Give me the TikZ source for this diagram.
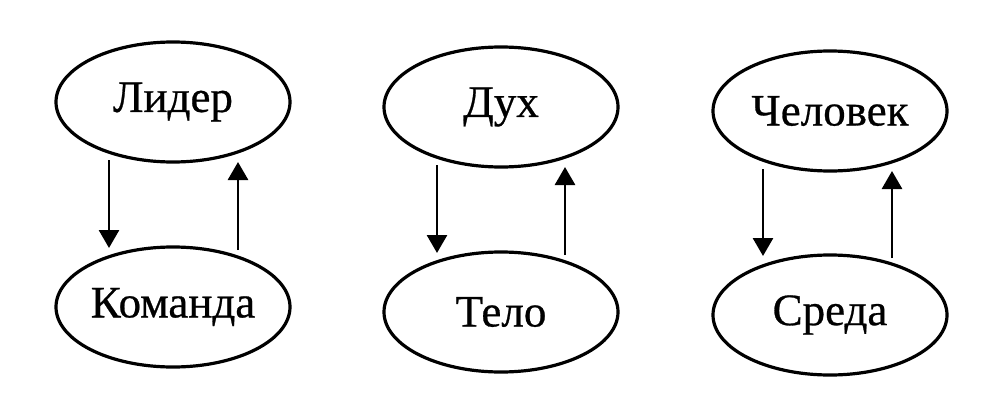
\documentclass[tikz,border=0pt]{standalone}
\usepackage{fontspec}
\setmainfont{Liberation Serif}[FakeBold=0.6]
\usetikzlibrary{shapes.geometric,arrows.meta,calc}
\begin{document}
\begin{tikzpicture}[x=1pt,y=1pt,
  oval/.style={draw,ellipse,line width=3.2pt,minimum width=234pt,minimum height=120pt,inner sep=0pt,
    font=\fontsize{45}{50}\selectfont},
  arr/.style={line width=2.8pt,-{Triangle[width=20pt,length=18pt]}}]
\useasboundingbox (0,0) rectangle (1004,416);
\node[oval] (t1) at (173,314) {Лидер};
\node[oval] (b1) at (173,109) {Команда};
\node[oval] (t2) at (501,309) {Дух};
\node[oval] (b2) at (501,104) {Тело};
\node[oval] (t3) at (830,305) {Человек};
\node[oval] (b3) at (830,101) {Среда};
\foreach \i/\dl/\dr in {1/-64/65, 2/-64/64, 3/-67/62}{
  \coordinate (ds\i) at ($(t\i.center)+(\dl,-58)$);
  \coordinate (de\i) at ($(b\i.center)+(\dl,59)$);
  \coordinate (us\i) at ($(b\i.center)+(\dr,57)$);
  \coordinate (ue\i) at ($(t\i.center)+(\dr,-60)$);
  \draw[arr] (ds\i) -- (de\i);
  \draw[arr] (us\i) -- (ue\i);
}
\end{tikzpicture}
\end{document}
